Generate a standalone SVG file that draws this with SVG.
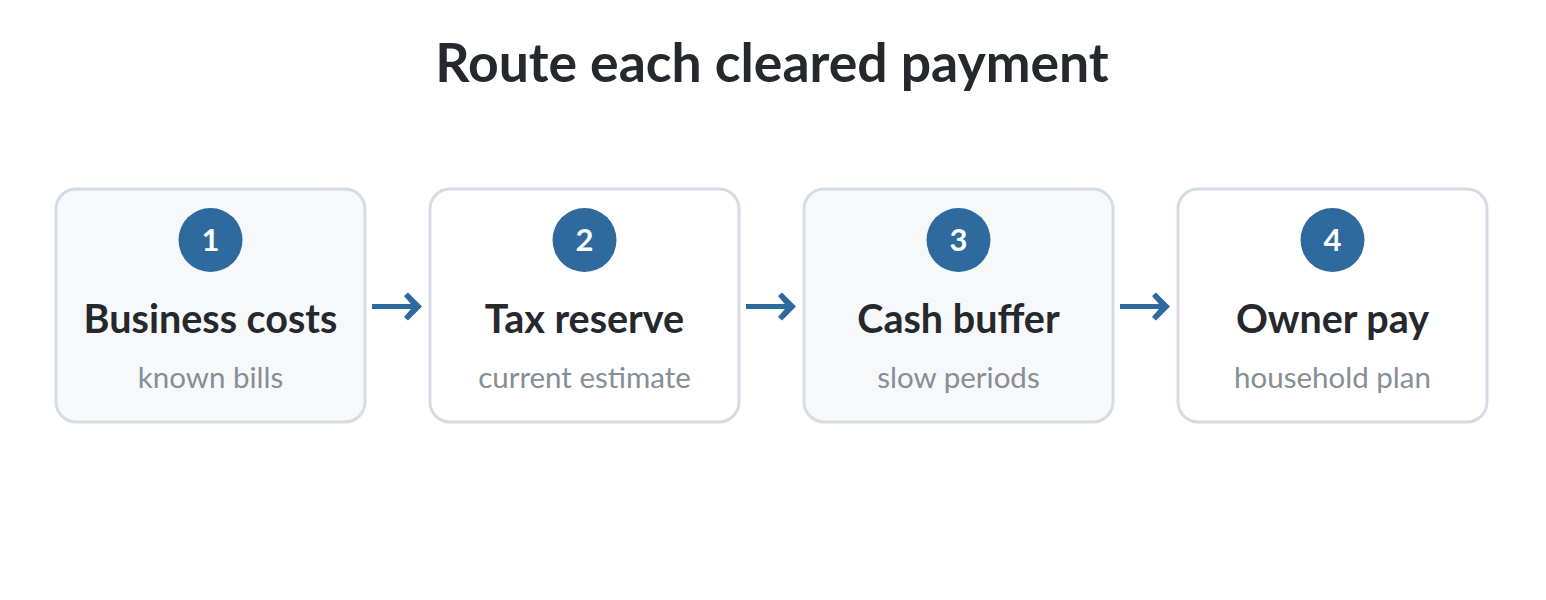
<svg xmlns="http://www.w3.org/2000/svg" width="1546" height="600" viewBox="0 0 1546 600">
<style>
.box{stroke:#d5dce3;stroke-width:3}
.alt{fill:#f6f8fa}
.wht{fill:#ffffff}
.badge{fill:#2e6a9e}
.num{font-family:Lato,"Liberation Sans",sans-serif;font-weight:700;font-size:31px;fill:#ffffff;text-anchor:middle}
.ttl{font-family:Lato,"Liberation Sans",sans-serif;font-weight:700;font-size:39.5px;fill:#25282d;text-anchor:middle}
.sub{font-family:Lato,"Liberation Sans",sans-serif;font-size:29.5px;fill:#868e96;text-anchor:middle}
.head{font-family:Lato,"Liberation Sans",sans-serif;font-weight:700;font-size:53.5px;fill:#25282d;text-anchor:middle}
.conn{stroke:#2e6a9e;stroke-width:5;fill:none}
</style>
<rect width="1546" height="600" fill="#ffffff"/>
<text class="head" x="772" y="82">Route each cleared payment</text>
<g id="connectors">
<path class="conn" d="M372,306.5 H416"/>
<path class="conn" d="M746,306.5 H790"/>
<path class="conn" d="M1120,306.5 H1164"/>
<path d="M404,296 L408,292.5 L422,306.5 L408,320.5 L404,317 L413,306.5 Z" fill="#2e6a9e"/>
<path d="M778,296 L782,292.5 L796,306.5 L782,320.5 L778,317 L787,306.5 Z" fill="#2e6a9e"/>
<path d="M1152,296 L1156,292.5 L1170,306.5 L1156,320.5 L1152,317 L1161,306.5 Z" fill="#2e6a9e"/>
</g>
<g id="node1">
<rect class="box alt" x="56" y="189" width="309" height="233" rx="20"/>
<circle class="badge" cx="210.5" cy="240" r="32"/>
<text class="num" x="210.5" y="251">1</text>
<text class="ttl" x="210.5" y="333">Business costs</text>
<text class="sub" x="210.5" y="388">known bills</text>
</g>
<g id="node2">
<rect class="box wht" x="430" y="189" width="309" height="233" rx="20"/>
<circle class="badge" cx="584.5" cy="240" r="32"/>
<text class="num" x="584.5" y="251">2</text>
<text class="ttl" x="584.5" y="333">Tax reserve</text>
<text class="sub" x="584.5" y="388">current estimate</text>
</g>
<g id="node3">
<rect class="box alt" x="804" y="189" width="309" height="233" rx="20"/>
<circle class="badge" cx="958.5" cy="240" r="32"/>
<text class="num" x="958.5" y="251">3</text>
<text class="ttl" x="958.5" y="333">Cash buffer</text>
<text class="sub" x="958.5" y="388">slow periods</text>
</g>
<g id="node4">
<rect class="box wht" x="1178" y="189" width="309" height="233" rx="20"/>
<circle class="badge" cx="1332.5" cy="240" r="32"/>
<text class="num" x="1332.5" y="251">4</text>
<text class="ttl" x="1332.5" y="333">Owner pay</text>
<text class="sub" x="1332.5" y="388">household plan</text>
</g>
</svg>
